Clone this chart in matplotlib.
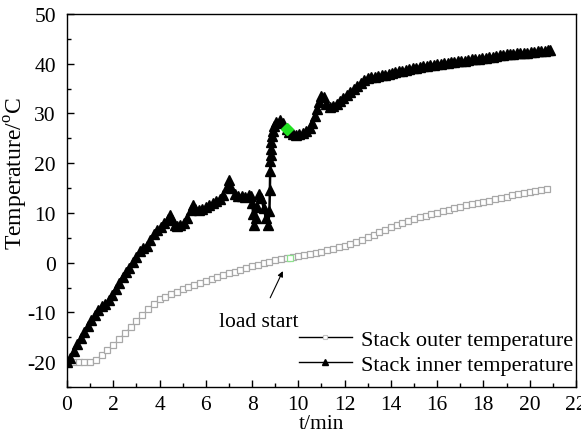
import matplotlib
matplotlib.use("Agg")
import matplotlib.pyplot as plt
from matplotlib.lines import Line2D
from matplotlib.ticker import MultipleLocator

# stack inner temperature (deg C) against time (min)
inner_t = [
    0.0, 0.15, 0.3, 0.45, 0.6, 0.75, 0.9, 1.05, 1.2, 1.35, 1.5, 1.65, 1.8, 1.95,
    2.1, 2.25, 2.4, 2.55, 2.7, 2.85, 3.0, 3.15, 3.3, 3.45, 3.6, 3.75, 3.9, 4.05,
    4.2, 4.35, 4.45, 4.55, 4.65, 4.75, 4.9, 5.05, 5.2, 5.35, 5.45, 5.55, 5.7,
    5.85, 6.0, 6.15, 6.3, 6.45, 6.6, 6.75, 6.9, 7.0, 7.1, 7.25, 7.4, 7.55, 7.7,
    7.85, 7.95, 8.0, 8.05, 8.1, 8.15, 8.2, 8.3, 8.4, 8.5, 8.6, 8.7, 8.75, 8.77,
    8.78, 8.79, 8.8, 8.82, 8.84, 8.87, 8.9, 8.95, 9.05, 9.2, 9.35, 9.5, 9.6,
    9.75, 9.9, 10.05, 10.2, 10.35, 10.5, 10.6, 10.7, 10.8, 10.9, 11.0, 11.1,
    11.2, 11.35, 11.5, 11.65, 11.8, 11.95, 12.1, 12.25, 12.4, 12.55, 12.7,
    12.85, 13.0, 13.15, 13.3, 13.45, 13.6, 13.75, 13.9, 14.05, 14.2, 14.35,
    14.5, 14.65, 14.8, 14.95, 15.1, 15.25, 15.4, 15.55, 15.7, 15.85, 16.0,
    16.15, 16.3, 16.45, 16.6, 16.75, 16.9, 17.05, 17.2, 17.35, 17.5, 17.65,
    17.8, 17.95, 18.1, 18.25, 18.4, 18.55, 18.7, 18.85, 19.0, 19.15, 19.3,
    19.45, 19.6, 19.75, 19.9, 20.05, 20.2, 20.35, 20.5, 20.65, 20.8, 20.9,
]
inner_temp = [
    -20.0, -19.2, -17.8, -16.4, -15.2, -14.0, -12.8, -11.6, -10.6, -9.6, -8.8,
    -8.4, -7.6, -6.4, -5.2, -4.0, -2.8, -1.9, -1.0, 0.2, 1.2, 2.4, 3.0, 3.4,
    4.6, 5.8, 6.6, 7.2, 8.0, 8.8, 9.6, 8.6, 7.6, 7.4, 7.6, 8.0, 9.0, 10.6,
    11.6, 10.8, 10.6, 10.8, 11.2, 11.6, 12.0, 12.4, 12.8, 13.6, 15.2, 16.6,
    15.0, 13.8, 13.4, 13.4, 13.2, 13.6, 13.4, 12.0, 9.8, 7.6, 9.0, 11.2, 13.8,
    13.0, 11.0, 9.0, 7.6, 10.4, 14.6, 18.4, 20.4, 21.6, 22.8, 24.2, 25.4,
    26.4, 27.4, 28.2, 28.6, 28.0, 26.9, 26.2, 25.8, 25.6, 25.8, 26.0, 26.4,
    27.0, 28.0, 29.4, 30.8, 32.4, 33.6, 33.4, 32.0, 31.4, 31.6, 32.0, 32.6,
    33.2, 33.8, 34.4, 35.0, 35.6, 36.2, 36.8, 37.2, 37.3, 37.4, 37.6, 37.7,
    37.8, 38.0, 38.1, 38.3, 38.5, 38.6, 38.8, 38.9, 39.1, 39.2, 39.4, 39.5,
    39.6, 39.7, 39.8, 39.9, 40.0, 40.1, 40.2, 40.3, 40.4, 40.5, 40.5, 40.6,
    40.8, 40.9, 41.0, 41.0, 41.1, 41.2, 41.3, 41.4, 41.5, 41.7, 41.8, 41.9,
    42.0, 42.0, 42.1, 42.1, 42.2, 42.2, 42.3, 42.4, 42.5, 42.5, 42.6, 42.7,
    42.8,
]

# stack outer temperature (deg C)
outer_t = [
    0.0, 0.25, 0.5, 0.75, 1.0, 1.25, 1.5, 1.75, 2.0, 2.25, 2.5, 2.75, 3.0,
    3.25, 3.5, 3.75, 4.0, 4.25, 4.5, 4.75, 5.0, 5.25, 5.5, 5.75, 6.0, 6.25,
    6.5, 6.75, 7.0, 7.25, 7.5, 7.75, 8.0, 8.25, 8.5, 8.75, 9.0, 9.25, 9.5,
    9.75, 10.0, 10.25, 10.5, 10.75, 11.0, 11.25, 11.5, 11.75, 12.0, 12.25,
    12.5, 12.75, 13.0, 13.25, 13.5, 13.75, 14.0, 14.25, 14.5, 14.75, 15.0,
    15.25, 15.5, 15.75, 16.0, 16.25, 16.5, 16.75, 17.0, 17.25, 17.5, 17.75,
    18.0, 18.25, 18.5, 18.75, 19.0, 19.25, 19.5, 19.75, 20.0, 20.25, 20.5,
    20.75,
]
outer_temp = [
    -20.0, -20.0, -20.0, -20.0, -20.0, -19.6, -18.6, -17.6, -16.6, -15.4,
    -14.2, -13.0, -11.8, -10.6, -9.4, -8.3, -7.4, -6.8, -6.3, -5.8, -5.3,
    -4.9, -4.5, -4.1, -3.7, -3.3, -2.9, -2.5, -2.1, -1.8, -1.4, -1.0, -0.7,
    -0.4, -0.1, 0.2, 0.5, 0.8, 1.0, 1.2, 1.4, 1.6, 1.8, 2.0, 2.2, 2.5, 2.8,
    3.1, 3.4, 3.8, 4.2, 4.6, 5.1, 5.6, 6.1, 6.6, 7.1, 7.6, 8.0, 8.4, 8.8,
    9.1, 9.4, 9.7, 10.0, 10.3, 10.6, 10.9, 11.2, 11.5, 11.7, 12.0, 12.2,
    12.5, 12.8, 13.1, 13.3, 13.6, 13.8, 14.1, 14.3, 14.5, 14.7, 14.9,
]

# load switched on
load_t = 9.5
load_inner = 26.9
load_outer = 1.0

plt.rcParams["font.family"] = ["Liberation Serif", "DejaVu Serif"]
plt.rcParams["mathtext.fontset"] = "custom"
plt.rcParams["mathtext.rm"] = "Liberation Serif"
plt.rcParams["font.size"] = 15.5
plt.rcParams["axes.unicode_minus"] = False

fig = plt.figure(figsize=(5.81, 4.35), dpi=100)
ax = fig.add_axes([0.1153, 0.108, 0.876, 0.8575])

ax.plot(outer_t, outer_temp, color="#c4c4c4", lw=1.0, marker="s", ms=4.0,
        mfc="white", mec="#a8a8a8", mew=0.9)
ax.plot(inner_t, inner_temp, color="black", lw=1.8, marker="^", ms=6.5,
        mfc="black", mec="black")

ax.plot(load_t, load_inner, marker="D", ms=6, color="#22e022", mec="#22e022")
ax.plot(load_t + 0.15, load_outer, marker="s", ms=4.0, mfc="white",
        mec="#8ee08e", mew=0.9)

ax.annotate("load start", xy=(9.33, -1.7), xytext=(8.3, -11.8),
            ha="center", va="center",
            arrowprops=dict(arrowstyle="-|>", color="black", lw=0.8,
                            mutation_scale=8, shrinkA=9, shrinkB=0))

ax.set_xlim(0, 22)
ax.set_ylim(-25, 50)
ax.xaxis.set_major_locator(MultipleLocator(2))
ax.xaxis.set_minor_locator(MultipleLocator(1))
ax.yaxis.set_major_locator(MultipleLocator(10))
ax.yaxis.set_minor_locator(MultipleLocator(5))
ax.tick_params(which="both", direction="in", top=False, right=False)
ax.tick_params(which="major", length=5, width=1)
ax.tick_params(which="minor", length=3, width=1)
ax.tick_params(axis="x", pad=6)
ax.tick_params(axis="y", pad=8)
for sp in ax.spines.values():
    sp.set_linewidth(1.0)

ax.set_xlabel("t/min", labelpad=0)
ax.set_ylabel("Temperature/$^{\\rm o}$C", fontsize=17, labelpad=3)
ax.yaxis.set_label_coords(-0.073, 0.575)

handles = [
    Line2D([], [], color="black", lw=1.0, marker="s", ms=3.5, mfc="white",
           mec="#c4c4c4", mew=0.8),
    Line2D([], [], color="black", lw=1.0, marker="^", ms=5, mfc="black",
           mec="black"),
]
ax.legend(handles, ["Stack outer temperature", "Stack inner temperature"],
          loc="lower right", bbox_to_anchor=(1.025, -0.01), frameon=False,
          fontsize=16, handlelength=2.4, handletextpad=0.4, labelspacing=0.2,
          borderpad=0.2, numpoints=1)

plt.savefig("out.png", dpi=100)
